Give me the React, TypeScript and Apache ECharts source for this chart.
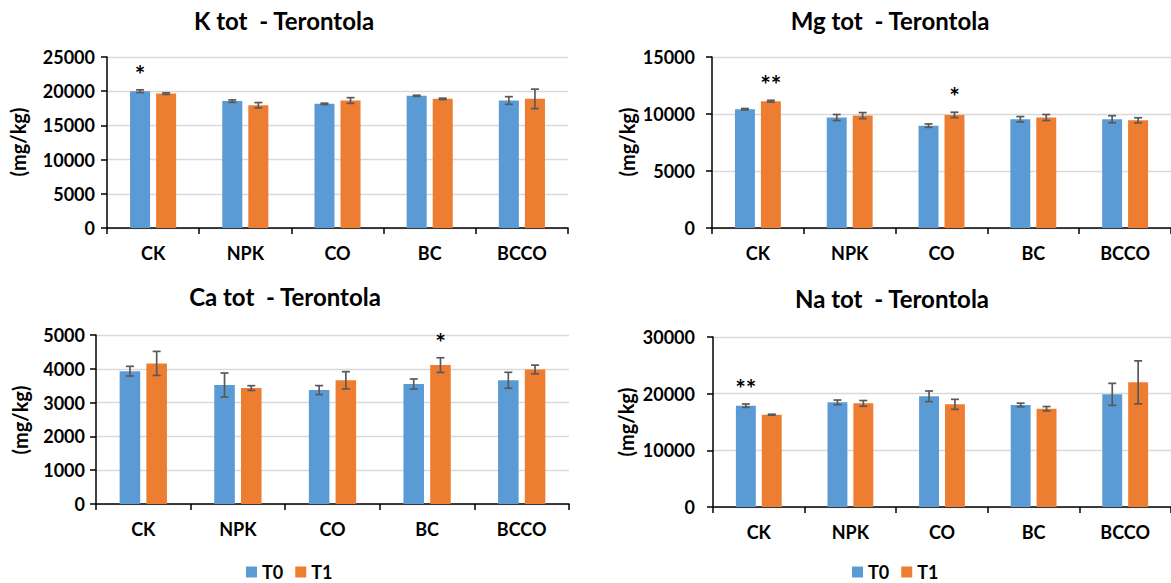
import React, { useEffect, useRef } from 'react';
import * as echarts from 'echarts';

// ---- data ----
const categories = ['CK', 'NPK', 'CO', 'BC', 'BCCO'];
const seriesNames = ['T0', 'T1'];

const kTitle = 'K tot  - Terontola';
const kT0 = [20000, 18550, 18150, 19330, 18640];
const kT0Err = [200, 180, 100, 80, 560];
const kT1 = [19650, 17950, 18640, 18880, 18880];
const kT1Err = [120, 390, 415, 100, 1420];
const kTicks = { max: 25000, interval: 5000 };
const kStars = [{ cat: 0, s: 0, text: '*' }];

const mgTitle = 'Mg tot  - Terontola';
const mgT0 = [10420, 9690, 8980, 9540, 9540];
const mgT0Err = [60, 265, 150, 235, 310];
const mgT1 = [11120, 9860, 9920, 9690, 9450];
const mgT1Err = [80, 265, 235, 265, 220];
const mgTicks = { max: 15000, interval: 5000 };
const mgStars = [{ cat: 0, s: 1, text: '**' }, { cat: 2, s: 1, text: '*' }];

const caTitle = 'Ca tot  - Terontola';
const caT0 = [3930, 3520, 3370, 3550, 3660];
const caT0Err = [143, 355, 133, 148, 236];
const caT1 = [4160, 3430, 3660, 4110, 3980];
const caT1Err = [355, 70, 255, 217, 128];
const caTicks = { max: 5000, interval: 1000 };
const caStars = [{ cat: 3, s: 1, text: '*' }];

const naTitle = 'Na tot  - Terontola';
const naT0 = [17880, 18470, 19530, 18000, 19880];
const naT0Err = [300, 410, 940, 320, 1940];
const naT1 = [16290, 18290, 18120, 17350, 22000];
const naT1Err = [80, 500, 880, 380, 3790];
const naTicks = { max: 30000, interval: 10000 };
const naStars = [{ cat: 0, s: 0, text: '**' }];

const yAxisName = '(mg/kg)';

// ---- styling / layout ----
const FONT = 'Lato, "Open Sans", sans-serif';
const COLORS = ['#5B9BD5', '#ED7D31'];
const ERR_COLOR = '#595959';
const CAT_GAP = 0.5;
const BAR_GAP = 0.3;

const panels = [
  { title: kTitle, t0: kT0, t0Err: kT0Err, t1: kT1, t1Err: kT1Err, ticks: kTicks, stars: kStars,
    grid: { left: 107, top: 57, width: 461, height: 171 }, titlePos: [284, 8], labelMargin: 12, namePos: [18, 142], legend: null },
  { title: mgTitle, t0: mgT0, t0Err: mgT0Err, t1: mgT1, t1Err: mgT1Err, ticks: mgTicks, stars: mgStars,
    grid: { left: 712, top: 57, width: 461, height: 171 }, titlePos: [890, 8], labelMargin: 17, namePos: [627, 142], legend: null },
  { title: caTitle, t0: caT0, t0Err: caT0Err, t1: caT1, t1Err: caT1Err, ticks: caTicks, stars: caStars,
    grid: { left: 96, top: 335, width: 473, height: 169 }, titlePos: [285, 284], labelMargin: 11, namePos: [20, 420], legend: [246, 563] },
  { title: naTitle, t0: naT0, t0Err: naT0Err, t1: naT1, t1Err: naT1Err, ticks: naTicks, stars: naStars,
    grid: { left: 713, top: 337, width: 461, height: 170 }, titlePos: [892, 286], labelMargin: 18, namePos: [626, 422], legend: [852, 563] },
];

function buildOption() {
  const grid: any[] = [];
  const xAxis: any[] = [];
  const yAxis: any[] = [];
  const series: any[] = [];
  const title: any[] = [];
  const legend: any[] = [];
  const graphic: any[] = [];

  panels.forEach((p, i) => {
    grid.push({ ...p.grid, containLabel: false });
    xAxis.push({
      type: 'category', gridIndex: i, data: categories,
      axisLine: { show: true, lineStyle: { color: '#000', width: 1.5 } },
      axisTick: { show: true, length: 6, lineStyle: { color: '#000', width: 1.5 } },
      axisLabel: { interval: 0, margin: 16, color: '#000', fontFamily: FONT, fontWeight: 'bold', fontSize: 18 },
      splitLine: { show: false },
    });
    yAxis.push({
      type: 'value', gridIndex: i, min: 0, max: p.ticks.max, interval: p.ticks.interval,
      axisLine: { show: true, lineStyle: { color: '#000', width: 1.5 } },
      axisTick: { show: true, length: 6, lineStyle: { color: '#000', width: 1.5 } },
      axisLabel: { margin: p.labelMargin, color: '#000', fontFamily: FONT, fontWeight: 'bold', fontSize: 18,
        formatter: (v: number) => String(v) },
      splitLine: { show: true, lineStyle: { color: '#D9D9D9', width: 1.3 } },
    });
    title.push({
      text: p.title, left: p.titlePos[0], top: p.titlePos[1], textAlign: 'center', padding: 0,
      textStyle: { fontFamily: FONT, fontWeight: 'bold', fontSize: 24, color: '#000' },
    });
    graphic.push({
      type: 'text', x: p.namePos[0], y: p.namePos[1], rotation: Math.PI / 2,
      style: { text: yAxisName, align: 'center', verticalAlign: 'middle', fontFamily: FONT, fontWeight: 'bold', fontSize: 20, fill: '#000' },
    });
    if (p.legend) {
      legend.push({
        data: seriesNames, left: p.legend[0], top: p.legend[1], padding: 0,
        itemWidth: 11, itemHeight: 11, itemGap: 12, icon: 'rect', selectedMode: false,
        textStyle: { fontFamily: FONT, fontWeight: 'bold', fontSize: 18, lineHeight: 18, color: '#000', padding: [0, 0, 0, 0] },
      });
    }
    const vals = [p.t0, p.t1];
    const errs = [p.t0Err, p.t1Err];
    vals.forEach((v, s) => {
      series.push({
        type: 'bar', name: seriesNames[s], xAxisIndex: i, yAxisIndex: i, data: v,
        barCategoryGap: `${CAT_GAP * 100}%`, barGap: `${BAR_GAP * 100}%`,
        itemStyle: { color: COLORS[s] },
      });
    });
    const errData: number[][] = [];
    vals.forEach((v, s) => v.forEach((m, c) => errData.push([c, m, errs[s][c], s])));
    series.push({
      type: 'custom', name: 'err' + i, xAxisIndex: i, yAxisIndex: i, z: 5,
      data: errData, encode: { x: 0, y: 1 },
      renderItem: (params: any, api: any) => {
        const cat = api.value(0), mean = api.value(1), err = api.value(2), s = api.value(3);
        const catW = api.size([1, 0])[0];
        const bw = (catW * (1 - CAT_GAP)) / (2 + BAR_GAP);
        const off = (s === 0 ? -1 : 1) * (bw * (1 + BAR_GAP)) / 2;
        const hi = api.coord([cat, mean + err]);
        const lo = api.coord([cat, mean - err]);
        const x = hi[0] + off;
        const style = { stroke: ERR_COLOR, lineWidth: 1.7 };
        return {
          type: 'group', children: [
            { type: 'line', shape: { x1: x, y1: hi[1], x2: x, y2: lo[1] }, style },
            { type: 'line', shape: { x1: x - 4, y1: hi[1], x2: x + 4, y2: hi[1] }, style },
            { type: 'line', shape: { x1: x - 4, y1: lo[1], x2: x + 4, y2: lo[1] }, style },
          ],
        };
      },
    });
    const starData = p.stars.map((st) => {
      const m = vals[st.s][st.cat] + errs[st.s][st.cat];
      return [st.cat, m, st.s];
    });
    series.push({
      type: 'custom', name: 'sig' + i, xAxisIndex: i, yAxisIndex: i, z: 6,
      data: starData, encode: { x: 0, y: 1 },
      renderItem: (params: any, api: any) => {
        const cat = api.value(0), top = api.value(1), s = api.value(2);
        const catW = api.size([1, 0])[0];
        const bw = (catW * (1 - CAT_GAP)) / (2 + BAR_GAP);
        const off = (s === 0 ? -1 : 1) * (bw * (1 + BAR_GAP)) / 2;
        const pt = api.coord([cat, top]);
        return {
          type: 'text', x: pt[0] + off, y: pt[1] - 16,
          style: { text: p.stars[params.dataIndex].text, align: 'center', verticalAlign: 'middle',
            fontFamily: FONT, fontWeight: 'bold', fontSize: 25, fill: '#000' },
        };
      },
    });
  });

  return { animation: false, backgroundColor: '#fff', grid, xAxis, yAxis, series, title, legend, graphic };
}

export default function App() {
  const ref = useRef<HTMLDivElement>(null);
  useEffect(() => {
    if (!ref.current) return;
    const chart = echarts.init(ref.current, undefined, { renderer: 'svg' });
    chart.setOption(buildOption() as any);
    return () => chart.dispose();
  }, []);
  return <div ref={ref} style={{ position: 'absolute', left: 0, top: 0, width: 1171, height: 583 }} />;
}
